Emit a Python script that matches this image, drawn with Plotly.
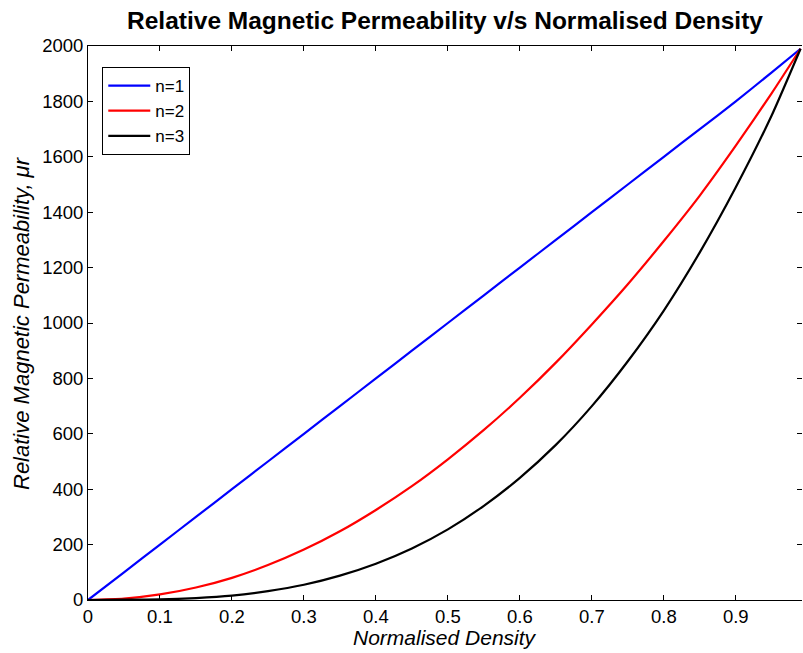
import plotly.graph_objects as go

density = [0, 0.05, 0.1, 0.15, 0.2, 0.25, 0.3, 0.35, 0.4, 0.45, 0.5, 0.55, 0.6, 0.65, 0.7, 0.75, 0.8, 0.85, 0.9, 0.95, 0.99]
mu_n1 = [0, 100, 200, 300, 400, 500, 600, 700, 800, 900, 1000, 1100, 1200, 1300, 1400, 1500, 1600, 1700, 1800, 1905, 1990]
mu_n2 = [0, 5, 20, 45, 80, 126, 182, 248, 325, 411, 508, 614, 730, 857, 995, 1140, 1296, 1460, 1640, 1830, 1990]
mu_n3 = [0, 1, 2, 7, 16, 32, 55, 88, 131, 186, 255, 340, 441, 560, 700, 862, 1045, 1255, 1490, 1750, 1990]

series = [("n=1", mu_n1, "#0000ff"), ("n=2", mu_n2, "#ff0000"), ("n=3", mu_n3, "#000000")]

x_ticks = [0, 0.1, 0.2, 0.3, 0.4, 0.5, 0.6, 0.7, 0.8, 0.9]
x_tick_labels = ["0", "0.1", "0.2", "0.3", "0.4", "0.5", "0.6", "0.7", "0.8", "0.9"]
y_ticks = [0, 200, 400, 600, 800, 1000, 1200, 1400, 1600, 1800, 2000]

title_text = "Relative Magnetic Permeability v/s Normalised Density"
x_title = "Normalised Density"
y_title = "Relative Magnetic Permeability, \u03bcr"

fig = go.Figure()
for name, vals, col in series:
    fig.add_trace(go.Scatter(x=density, y=vals, mode="lines", name=name,
                             line=dict(color=col, width=2.2, shape="spline", smoothing=0.6)))
# invisible trace to hold right-side mirror ticks
fig.add_trace(go.Scatter(x=[0], y=[0], yaxis="y2", mode="lines", showlegend=False,
                         hoverinfo="skip", line=dict(color="rgba(0,0,0,0)")))

font_family = "Liberation Sans, Arial, sans-serif"
fig.update_layout(
    width=803, height=653,
    margin=dict(l=88, r=1, t=46, b=53, autoexpand=False),
    paper_bgcolor="white", plot_bgcolor="white",
    font=dict(family=font_family, size=18, color="black"),
    title=dict(text="<b>" + title_text + "</b>",
               xref="paper", x=0.5, xanchor="center", y=0.9694, yanchor="middle",
               font=dict(size=24.5, family=font_family, color="black")),
    xaxis=dict(range=[0, 0.992], tickvals=x_ticks, ticktext=x_tick_labels, automargin=False,
               showgrid=False, zeroline=False, showline=True, linecolor="black", linewidth=1,
               mirror="ticks", ticks="inside", ticklen=5, tickcolor="black",
               tickfont=dict(size=18.5)),
    yaxis=dict(range=[0, 2000], tickvals=y_ticks, automargin=False,
               showgrid=False, zeroline=False, showline=True, linecolor="black", linewidth=1,
               mirror=False, ticks="inside", ticklen=5, tickcolor="black",
               tickfont=dict(size=18.5)),
    yaxis2=dict(range=[0, 2000], tickvals=y_ticks, overlaying="y", side="right", automargin=False,
                showgrid=False, zeroline=False, showline=False, showticklabels=False,
                ticks="inside", ticklen=5, tickcolor="black"),
    legend=dict(x=0.02, y=0.962, xanchor="left", yanchor="top",
                bgcolor="white", bordercolor="black", borderwidth=1,
                font=dict(size=17), tracegroupgap=0, itemwidth=42),
    showlegend=True,
    annotations=[
        dict(text="<i>" + x_title + "</i>", xref="paper", yref="paper", x=0.5, y=0,
             xanchor="center", yanchor="middle", yshift=-37, showarrow=False,
             font=dict(size=21)),
        dict(text="<i>" + y_title + "</i>", xref="paper", yref="paper", x=0, y=0.5,
             xanchor="center", yanchor="middle", xshift=-67, textangle=-90, showarrow=False,
             font=dict(size=22)),
    ],
)

fig.write_html("out.html", config={"displayModeBar": False},
               post_script="document.body.style.margin='0';document.body.style.overflow='hidden';")
